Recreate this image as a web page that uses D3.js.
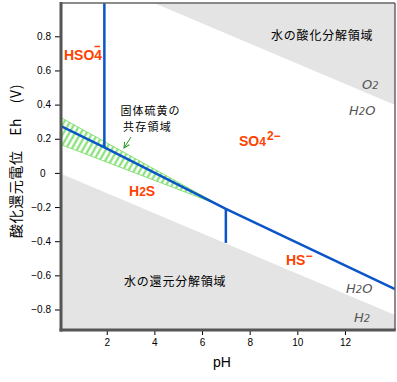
<!DOCTYPE html>
<html><head><meta charset="utf-8">
<script src="https://cdn.jsdelivr.net/npm/d3@7/dist/d3.min.js"></script>
<style>body{margin:0;background:#fff}svg{display:block}</style>
</head><body>
<svg id="c" width="397" height="382"></svg>
<script>
// ---- data (pH, Eh in V) ----
const xTicks = [2, 4, 6, 8, 10, 12];
const yTicks = [0.8, 0.6, 0.4, 0.2, 0, -0.2, -0.4, -0.6, -0.8];
const waterUpper = [[0, 1.23], [14.1, 0.398]];      // O2 / H2O
const waterLower = [[0, 0.0], [14.1, -0.832]];      // H2O / H2
const sulfateLine = [[0, 0.28], [1.9, 0.15], [7.0, -0.21], [14.1, -0.68]];
const hso4Line = [[1.9, 0.15], [1.9, 1.0]];
const h2sLine = [[7.0, -0.21], [7.0, -0.41]];
const sulfurUpper = [[0, 0.33], [6.75, -0.19]];
const sulfurLower = [[0, 0.17], [6.75, -0.19]];

const svg = d3.select("#c");
const L = 61, R = 395, T = 3, B = 330;
const x = d3.scaleLinear().domain([0.08, 14.1]).range([L, R]);
const y = d3.scaleLinear().domain([-0.92, 0.995]).range([B, T]);

const defs = svg.append("defs");
defs.append("clipPath").attr("id", "clip").append("rect")
  .attr("x", L).attr("y", T).attr("width", R - L).attr("height", B - T);
const pat = defs.append("pattern").attr("id", "hatch").attr("patternUnits", "userSpaceOnUse")
  .attr("width", 5).attr("height", 5).attr("patternTransform", "rotate(30)");
pat.append("line").attr("x1", 1.5).attr("y1", 0).attr("x2", 1.5).attr("y2", 5)
  .attr("stroke", "#77dd66").attr("stroke-width", 2);

const g = svg.append("g").attr("clip-path", "url(#clip)");
const line = d3.line().x(d => x(d[0])).y(d => y(d[1]));

// water decomposition regions
g.append("path").attr("fill", "#e4e4e4")
  .attr("d", line(waterUpper.concat([[14.1, 1.3], [0, 1.3]])) + "Z");
g.append("path").attr("fill", "#e4e4e4")
  .attr("d", line(waterLower.concat([[14.1, -1.2], [0, -1.2]])) + "Z");

// sulfur coexistence band
const band = sulfurUpper.concat(sulfurLower.slice().reverse());
g.append("path").attr("d", line(band) + "Z").attr("fill", "url(#hatch)")
  .attr("stroke", "#88e077").attr("stroke-width", 1);

// boundaries
const blue = "#0a55c8";
[sulfateLine, hso4Line, h2sLine].forEach(d => {
  g.append("path").attr("d", line(d)).attr("fill", "none")
    .attr("stroke", blue).attr("stroke-width", 2.5);
});

// frame
svg.append("line").attr("x1", L).attr("x2", R).attr("y1", T).attr("y2", T).attr("stroke", "#666").attr("stroke-width", 1.5);
svg.append("line").attr("x1", R).attr("x2", R).attr("y1", T).attr("y2", B).attr("stroke", "#666").attr("stroke-width", 1.5);

// axes
const ax = svg.append("g").attr("transform", `translate(0,${B})`)
  .call(d3.axisBottom(x).tickValues(xTicks).tickSize(5).tickPadding(4).tickFormat(d3.format("d")));
const ay = svg.append("g").attr("transform", `translate(${L - 1},0)`)
  .call(d3.axisLeft(y).tickValues(yTicks).tickSize(5).tickPadding(4)
    .tickFormat(d => d === 0 ? "0  " : d3.format(".1f")(d).replace("-", "− ")));
[ax, ay].forEach(a => {
  a.select(".domain").remove();
  a.selectAll("line").attr("stroke", "#000");
  a.selectAll("text").attr("font-family", "Liberation Sans, Arial, sans-serif")
    .attr("font-size", 10).attr("fill", "#000").style("white-space", "pre");
});
svg.append("line").attr("x1", L).attr("x2", L).attr("y1", T - 1).attr("y2", B + 1.5).attr("stroke", "#555").attr("stroke-width", 3);
svg.append("line").attr("x1", L - 1.5).attr("x2", R + 0.75).attr("y1", B).attr("y2", B).attr("stroke", "#555").attr("stroke-width", 3);

// axis titles
const jp = "Noto Sans CJK JP, sans-serif";
svg.append("text").attr("transform", "translate(15,161) rotate(-90)")
  .attr("text-anchor", "middle").attr("dominant-baseline", "central")
  .attr("font-family", jp).attr("font-size", 14).attr("letter-spacing", 0.6)
  .text("酸化還元電位　Eh　(V)");
svg.append("text").attr("x", 222).attr("y", 367).attr("text-anchor", "middle")
  .attr("font-family", "Liberation Sans, Arial, sans-serif").attr("font-size", 14).text("pH");

// region labels
function jt(t, xx, yy, ls) {
  svg.append("text").attr("x", xx).attr("y", yy).attr("dominant-baseline", "central")
    .attr("font-family", jp).attr("font-size", 12).attr("letter-spacing", ls).text(t);
}
jt("水の酸化分解領域", 271, 34.5, 0.8);
jt("水の還元分解領域", 124, 280, 0.8);
svg.append("text").attr("x", 150.5).attr("y", 115).attr("text-anchor", "middle")
  .attr("font-family", jp).attr("font-size", 11).attr("letter-spacing", 1).text("固体硫黄の");
svg.append("text").attr("x", 147.5).attr("y", 131).attr("text-anchor", "middle")
  .attr("font-family", jp).attr("font-size", 11).attr("letter-spacing", 1.2).text("共存領域");

// arrow
defs.append("marker").attr("id", "ah").attr("viewBox", "0 0 10 10").attr("refX", 9).attr("refY", 5)
  .attr("markerWidth", 7).attr("markerHeight", 7).attr("orient", "auto-start-reverse")
  .append("path").attr("d", "M1,1 L9,5 L1,9").attr("fill", "none").attr("stroke", "#2e9a2e").attr("stroke-width", 1.5);
svg.append("line").attr("x1", 131).attr("y1", 137).attr("x2", 124).attr("y2", 148)
  .attr("stroke", "#2e9a2e").attr("stroke-width", 1).attr("marker-end", "url(#ah)");

// species labels
const orange = "#ff4200";
function sp(parts, xx, yy) {
  const t = svg.append("text").attr("x", xx).attr("y", yy).attr("fill", orange)
    .attr("font-family", "Liberation Sans, Arial, sans-serif").attr("font-weight", "bold").attr("font-size", 14);
  parts.forEach(p => {
    const ts = t.append("tspan").text(p[0]);
    if (p[1]) ts.attr("font-size", p[1]);
    if (p[2]) ts.attr("dy", p[2]);
    if (p[3] !== undefined) ts.attr("dx", p[3]);
  });
}
sp([["HSO4"]], 64, 60);
svg.append("line").attr("x1", 94.5).attr("x2", 100).attr("y1", 46.5).attr("y2", 46.5).attr("stroke", orange).attr("stroke-width", 1.5);
sp([["SO"], ["4", 12], ["2−", 12, -6, 1]], 239, 146);
sp([["H"], ["2", 12], ["S"]], 129, 196);
sp([["HS"], ["−", 12, -5]], 286, 265);

// water species (italic, small subscript 2)
function it(parts, xx, yy) {
  const t = svg.append("text").attr("x", xx).attr("y", yy).attr("font-family", "DejaVu Sans, sans-serif")
    .attr("font-style", "italic").attr("font-size", 13).attr("fill", "#555");
  parts.forEach(p => {
    const ts = t.append("tspan").text(p);
    if (p === "2") ts.attr("font-size", 10);
  });
}
it(["O", "2"], 362, 89);
it(["H", "2", "O"], 349, 115);
it(["H", "2", "O"], 346, 293);
it(["H", "2"], 354, 322);
</script>
</body></html>
